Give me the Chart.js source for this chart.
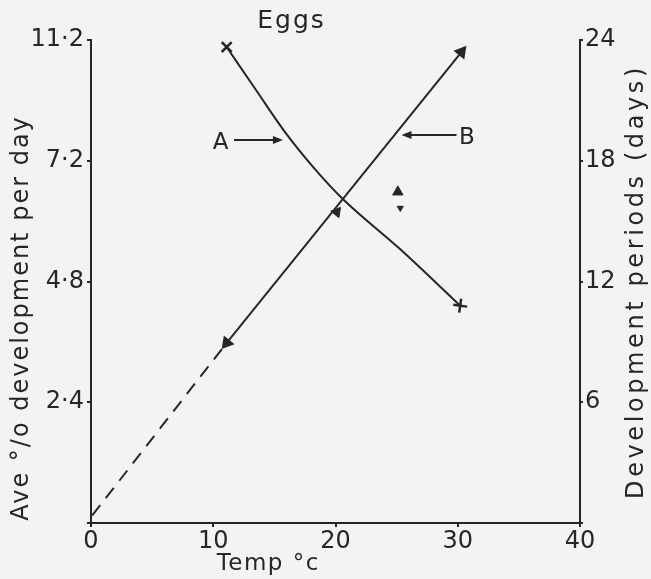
<!DOCTYPE html>
<html>
<head>
<meta charset="utf-8">
<script src="https://cdn.jsdelivr.net/npm/chart.js@4.4.1/dist/chart.umd.min.js"></script>
<style>
  html, body { margin: 0; padding: 0; background: #f3f3f2; }
  #wrap { width: 651px; height: 579px; }
</style>
</head>
<body>
<div id="wrap"><canvas id="eggChart" width="651" height="579"></canvas></div>
<script>
// Eggs: development period (days) and % development per day against temperature
const tempTicks = [0, 10, 20, 30, 40];
const rateTicks = [0, 2.4, 4.8, 7.2, 9.6];
const rateTickLabels = ['', '2·4', '4·8', '7·2', '11·2'];
const dayTicks = [0, 6, 12, 18, 24];
const dayTickLabels = ['', '6', '12', '18', '24'];

// curve A - development period (days)
const tempA = [11.1, 13.4, 15.9, 18.3, 20.6, 25.3, 30.2];
const daysA = [23.65, 21.6, 19.4, 17.6, 16.1, 13.6, 10.8];

// line B - % development per day
const tempB = [11.1, 30.3];
const rateB = [3.58, 9.36];
// dashed extension of B towards the origin
const tempBExt = [0.1, 11.1];
const rateBExt = [0.15, 3.58];
// single readings plotted beside the lines
const tempObs = [20.1, 25.1, 25.3];
const rateObs = [6.18, 6.58, 6.26];

const ink = '#262626';
const fontFamily = '"DejaVu Sans", sans-serif';

const toXY = (xs, ys) => xs.map((x, i) => ({ x: x, y: ys[i] }));

// labels and arrows, placed in temp / days units
const notes = {
  title: { text: 'Eggs', x: 16.4, y: 24.9 },
  arrows: [
    { label: 'A', lx: 10.6, ly: 18.9, from: [11.7, 19.03], to: [15.7, 19.03] },
    { label: 'B', lx: 30.75, ly: 19.15, from: [29.9, 19.28], to: [25.4, 19.28] }
  ]
};

const paperPlugin = {
  id: 'paper',
  beforeDraw(chart) {
    const ctx = chart.ctx;
    ctx.save();
    ctx.fillStyle = '#f3f3f2';
    ctx.fillRect(0, 0, chart.width, chart.height);
    ctx.restore();
  },
  afterDraw(chart) {
    const ctx = chart.ctx;
    const xs = chart.scales.x, yd = chart.scales.yR;
    const area = chart.chartArea;
    ctx.save();
    ctx.fillStyle = ink;
    ctx.strokeStyle = ink;
    ctx.textAlign = 'center';
    ctx.textBaseline = 'middle';

    // heading
    ctx.font = '25px ' + fontFamily;
    ctx.letterSpacing = '2px';
    ctx.fillText(notes.title.text, xs.getPixelForValue(notes.title.x), yd.getPixelForValue(notes.title.y));

    // x axis title
    ctx.font = '23px ' + fontFamily;
    ctx.letterSpacing = '1.5px';
    ctx.fillText('Temp °c', xs.getPixelForValue(14.5), area.bottom + 41);

    // left axis title
    ctx.save();
    ctx.translate(22, area.bottom - 205);
    ctx.rotate(-Math.PI / 2);
    ctx.font = '24px ' + fontFamily;
    ctx.letterSpacing = '2px';
    ctx.fillText('Ave °/o development per day', 0, 0);
    ctx.restore();

    // right axis title
    ctx.save();
    ctx.translate(637, (area.top + area.bottom) / 2);
    ctx.rotate(-Math.PI / 2);
    ctx.font = '24px ' + fontFamily;
    ctx.letterSpacing = '3.6px';
    ctx.fillText('Development periods (days)', 0, 0);
    ctx.restore();

    // A / B pointers
    ctx.letterSpacing = '0px';
    ctx.lineWidth = 2;
    notes.arrows.forEach(a => {
      const x0 = xs.getPixelForValue(a.from[0]), y0 = yd.getPixelForValue(a.from[1]);
      const x1 = xs.getPixelForValue(a.to[0]), y1 = yd.getPixelForValue(a.to[1]);
      const dir = Math.sign(x1 - x0);
      ctx.beginPath();
      ctx.moveTo(x0, y0);
      ctx.lineTo(x1 - dir * 7, y1);
      ctx.stroke();
      ctx.beginPath();
      ctx.moveTo(x1, y1);
      ctx.lineTo(x1 - dir * 10, y1 - 4);
      ctx.lineTo(x1 - dir * 10, y1 + 4);
      ctx.closePath();
      ctx.fill();
      ctx.font = '23px ' + fontFamily;
      ctx.fillText(a.label, xs.getPixelForValue(a.lx), yd.getPixelForValue(a.ly));
    });
    ctx.restore();
  }
};

const tickFont = { family: fontFamily, size: 24 };

new Chart(document.getElementById('eggChart'), {
  type: 'line',
  data: {
    datasets: [
      {
        // A: development period
        data: toXY(tempA, daysA),
        yAxisID: 'yR',
        borderColor: ink,
        borderWidth: 2,
        cubicInterpolationMode: 'monotone',
        pointStyle: daysA.map((v, i) => i === 0 ? 'crossRot' : (i === daysA.length - 1 ? 'cross' : false)),
        pointRadius: daysA.map((v, i) => (i === 0 || i === daysA.length - 1) ? 7 : 0),
        pointRotation: daysA.map((v, i) => i === daysA.length - 1 ? 8 : 0),
        pointBorderColor: ink,
        pointBorderWidth: 2.5
      },
      {
        // B: rate of development
        data: toXY(tempB, rateB),
        yAxisID: 'yL',
        borderColor: ink,
        borderWidth: 2,
        pointStyle: 'triangle',
        pointRadius: 6,
        pointRotation: [219, 39],
        pointBackgroundColor: ink,
        pointBorderColor: ink
      },
      {
        data: toXY(tempBExt, rateBExt),
        yAxisID: 'yL',
        borderColor: ink,
        borderWidth: 2,
        borderDash: [13, 9],
        pointRadius: 0
      },
      {
        data: toXY(tempObs, rateObs),
        yAxisID: 'yL',
        showLine: false,
        pointStyle: 'triangle',
        pointRadius: [6, 6, 3.5],
        pointRotation: [39, 0, 180],
        pointBackgroundColor: ink,
        pointBorderColor: ink
      }
    ]
  },
  options: {
    responsive: false,
    animation: false,
    events: [],
    layout: { padding: { top: 40, left: 0, right: 0, bottom: 0 } },
    plugins: { legend: { display: false }, tooltip: { enabled: false } },
    scales: {
      x: {
        type: 'linear',
        min: 0,
        max: 40,
        afterBuildTicks: s => { s.ticks = tempTicks.map(v => ({ value: v })); },
        afterFit: s => { s.height = 56; },
        border: { display: true, color: ink, width: 2 },
        grid: { drawOnChartArea: false, drawTicks: true, tickLength: 4, color: ink, lineWidth: 2 },
        ticks: { font: tickFont, color: ink, padding: 0, maxRotation: 0, callback: v => String(v) }
      },
      yL: {
        type: 'linear',
        position: 'left',
        min: 0,
        max: 9.6,
        afterBuildTicks: s => { s.ticks = rateTicks.map(v => ({ value: v })); },
        afterFit: s => { s.width = 91; },
        border: { display: true, color: ink, width: 2 },
        grid: { drawOnChartArea: false, drawTicks: true, tickLength: 4, color: ink, lineWidth: 2 },
        ticks: { font: tickFont, color: ink, padding: 3, callback: (v, i) => rateTickLabels[i] }
      },
      yR: {
        type: 'linear',
        position: 'right',
        min: 0,
        max: 24,
        afterBuildTicks: s => { s.ticks = dayTicks.map(v => ({ value: v })); },
        afterFit: s => { s.width = 71; },
        border: { display: true, color: ink, width: 2 },
        grid: { drawOnChartArea: false, drawTicks: true, tickLength: 3, color: ink, lineWidth: 2 },
        ticks: { font: tickFont, color: ink, padding: 2, callback: (v, i) => dayTickLabels[i] }
      }
    }
  },
  plugins: [paperPlugin]
});
</script>
</body>
</html>
